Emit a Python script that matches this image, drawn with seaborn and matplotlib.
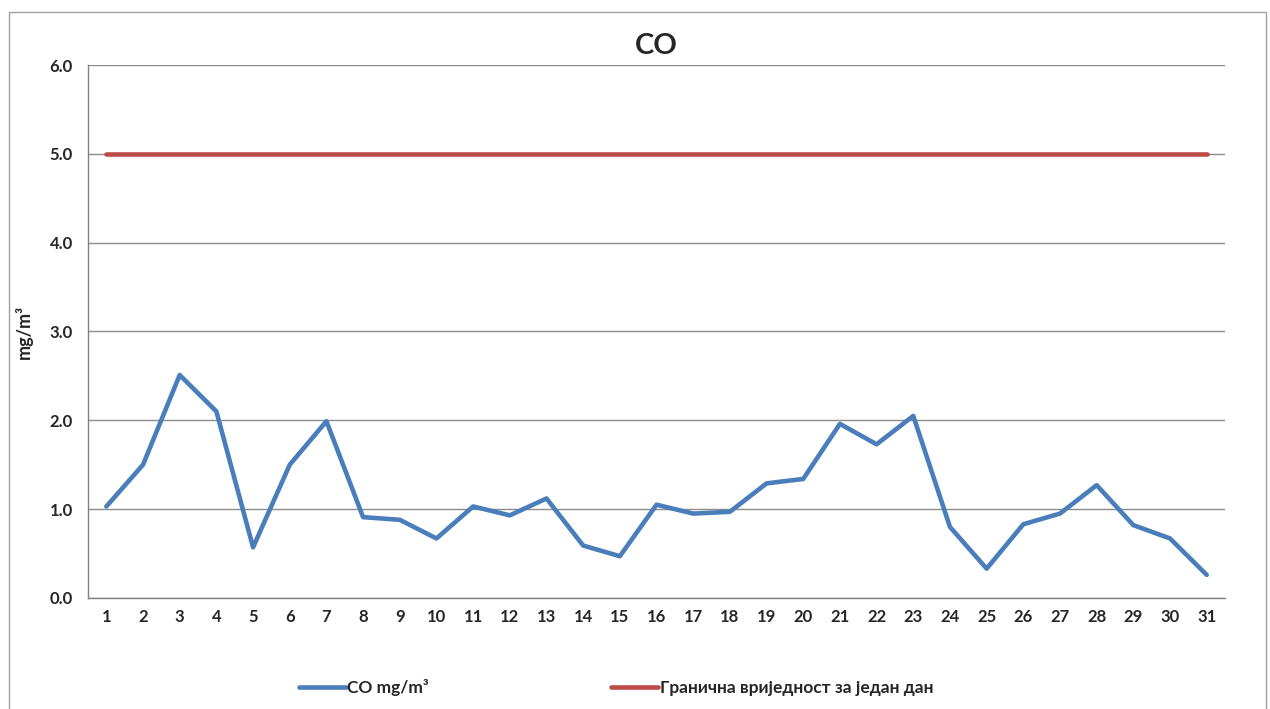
import pandas as pd
import matplotlib.pyplot as plt
import seaborn as sns
from matplotlib.patches import Rectangle

# daily values
days = list(range(1, 32))
co_values = [1.03, 1.50, 2.51, 2.10, 0.57, 1.50, 1.99, 0.91, 0.88, 0.67,
             1.03, 0.93, 1.12, 0.59, 0.47, 1.05, 0.95, 0.97, 1.29, 1.34,
             1.96, 1.73, 2.05, 0.80, 0.33, 0.83, 0.95, 1.27, 0.82, 0.67,
             0.26]
limit_values = [5.0] * 31
y_ticks = [0.0, 1.0, 2.0, 3.0, 4.0, 5.0, 6.0]

co_label = 'CO mg/m³'
limit_label = 'Гранична вриједност за један дан'

df = pd.DataFrame({'day': days, co_label: co_values, limit_label: limit_values})
df_long = df.melt(id_vars='day', var_name='series', value_name='value')

sns.set_style('white')
plt.rcParams['font.family'] = ['Lato', 'DejaVu Sans']
plt.rcParams['font.weight'] = 'bold'

fig = plt.figure(figsize=(12.7, 7.09), dpi=100)
ax = fig.add_axes([0.0693, 0.1566, 0.8953, 0.7517])

sns.lineplot(data=df_long, x='day', y='value', hue='series',
             palette={co_label: '#4a7ebb', limit_label: '#be4b48'},
             linewidth=3.3, ax=ax, legend=True)

ax.set_xlim(0.5, 31.5)
ax.set_ylim(0, 6)
ax.set_yticks(y_ticks)
ax.set_yticklabels([f'{v:.1f}' for v in y_ticks], fontsize=12, fontweight='bold')
ax.set_xticks(days)
ax.set_xticklabels([str(d) for d in days], fontsize=12, fontweight='bold')
# excel style tick marks between categories
ax.set_xticks([d + 0.5 for d in range(0, 32)], minor=True)
ax.tick_params(axis='x', which='major', length=0, pad=8)
ax.tick_params(axis='x', which='minor', length=5, color='#808080', direction='out')
ax.tick_params(axis='y', length=5, color='#808080', direction='out', pad=6)
ax.yaxis.grid(True, color='#8c8c8c', linewidth=1)
ax.set_axisbelow(True)

for side in ['top', 'right']:
    ax.spines[side].set_visible(False)
for side in ['left', 'bottom']:
    ax.spines[side].set_color('#808080')
    ax.spines[side].set_linewidth(1)

ax.set_xlabel('')
ax.set_ylabel('mg/m³', fontsize=13, fontweight='bold', labelpad=12)
ax.set_title('CO', fontsize=21, fontweight='bold', pad=8)

handles, labels = ax.get_legend_handles_labels()
ax.legend_.remove()
fig.legend(handles, labels, loc='center', bbox_to_anchor=(0.485, 0.03),
           ncol=2, frameon=False, fontsize=12.5, handlelength=2.7,
           handletextpad=0.1, columnspacing=10.5)

fig.patches.append(Rectangle((0.007, -0.01), 0.99, 0.993, transform=fig.transFigure,
                             fill=False, edgecolor='#a0a0a0', linewidth=1))

fig.savefig('out.png', dpi=100)
